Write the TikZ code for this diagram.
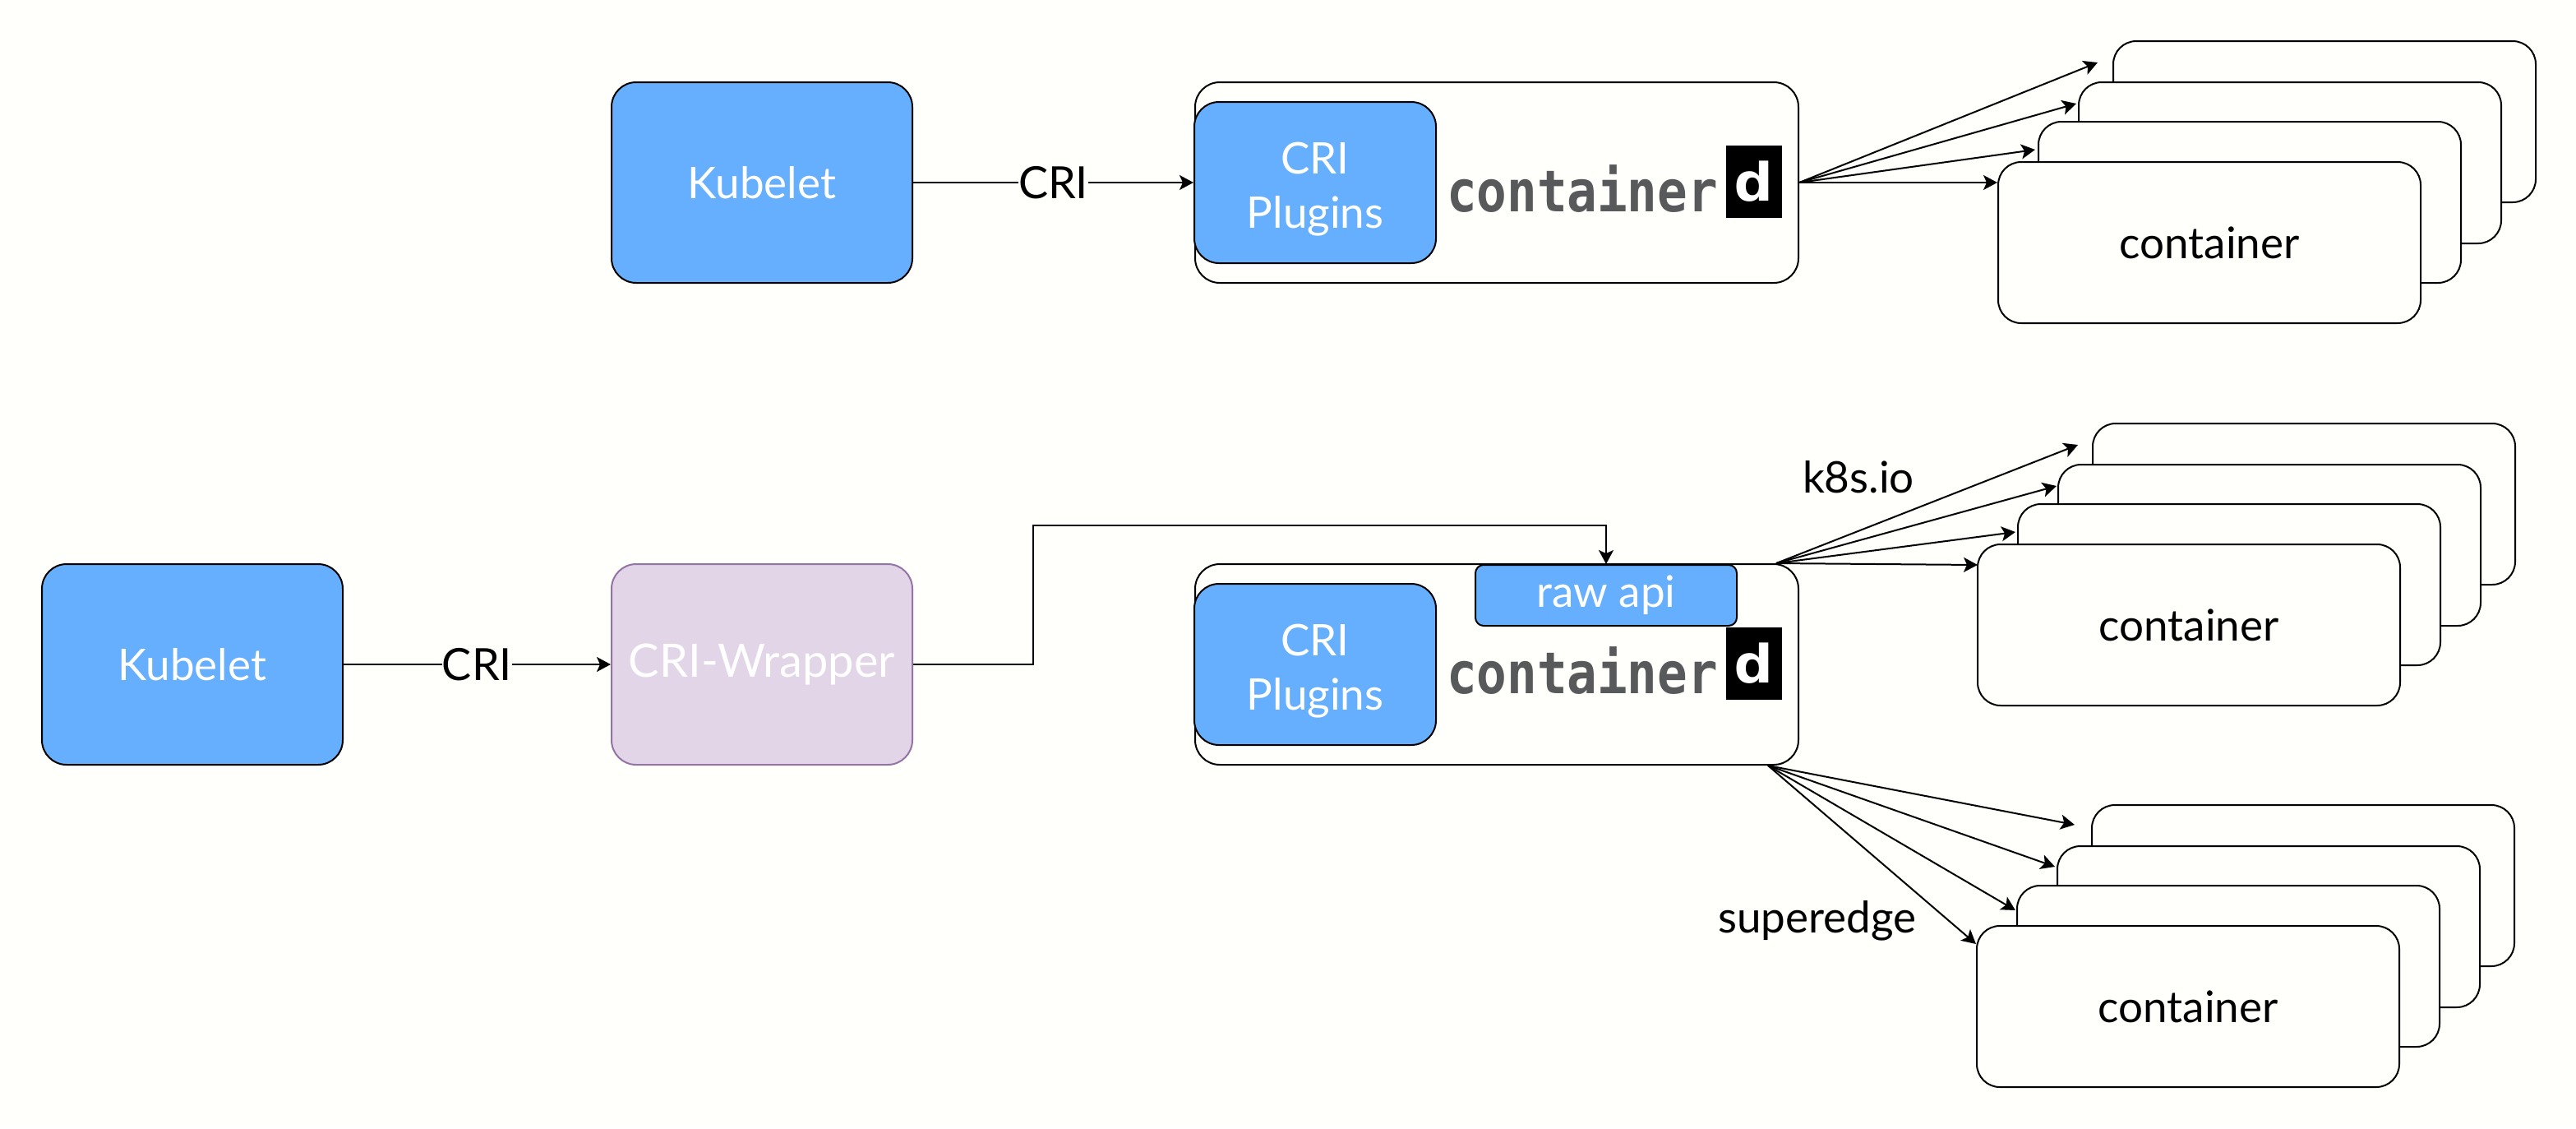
\documentclass[tikz,border=0pt]{standalone}
\usepackage{fontspec}
\setmainfont{Lato}
\newfontfamily\logofont{DejaVu Sans Mono}
\usetikzlibrary{arrows.meta}
\definecolor{paper}{HTML}{FFFFFC}
\definecolor{pluginblue}{HTML}{66AFFF}
\definecolor{wrapperfill}{HTML}{E1D5E7}
\definecolor{wrapperline}{HTML}{9673A6}
\definecolor{logogrey}{HTML}{58595B}

\begin{document}
\begin{tikzpicture}[x=1pt,y=-1pt,line width=1pt,>={Stealth[length=8.5pt,width=9pt,inset=2pt]}]
        \tikzstyle{blockbox}=[rectangle,rounded corners=15pt,draw,minimum width=183pt,minimum height=122pt,inner sep=0pt,font=\fontsize{26.5}{33}\selectfont]
        \tikzstyle{bluebox}=[blockbox,fill=pluginblue,text=white]
        \tikzstyle{wrapperbox}=[blockbox,fill=wrapperfill,draw=wrapperline,text=white,font=\fontsize{28}{33}\selectfont]
        \tikzstyle{cdbox}=[blockbox,fill=paper,minimum width=367pt]
        \tikzstyle{pluginbox}=[bluebox,minimum width=147pt,minimum height=98pt,align=center]
        \tikzstyle{apibox}=[bluebox,rounded corners=5pt,minimum width=159pt,minimum height=37pt]
        \tikzstyle{containerbox}=[blockbox,rounded corners=14pt,fill=paper,minimum width=257pt,minimum height=98pt]
        \tikzstyle{edgelabel}=[fill=paper,inner sep=0pt,font=\fontsize{27}{33}\selectfont]
        \tikzstyle{freelabel}=[inner sep=0pt,font=\fontsize{26.5}{33}\selectfont]
        \tikzstyle{logotext}=[inner sep=0pt,text=logogrey,xscale=.87,font=\logofont\bfseries\fontsize{35}{35}\selectfont]
        \tikzstyle{logosquare}=[fill=black,minimum width=34pt,minimum height=44pt,inner sep=0pt,text=white,font=\logofont\bfseries\fontsize{32}{32}\selectfont]

        \fill[paper] (0,0) rectangle (1567,686);

        % first row
        \node[bluebox] (kubeA) at (463.5,111) {Kubelet};
        \node[cdbox] (cdA) at (910.5,111) {};
        \node[pluginbox] (pluginA) at (800,111) {\rule{0pt}{27pt}CRI\\Plugins};

        % second row
        \node[bluebox] (kubeB) at (117,404) {Kubelet};
        \node[wrapperbox] (wrapper) at (463.5,404) {CRI-Wrapper};
        \node[cdbox] (cdB) at (910.5,404) {};
        \node[pluginbox] (pluginB) at (800,404) {\rule{0pt}{27pt}CRI\\Plugins};
        \node[apibox] (rawapi) at (977,362) {raw api};

        \foreach \i in {A,B} {
            \node[logotext] (logotext\i) at ([xshift=52pt,yshift=-4pt]cd\i.center) {container};
            \node[logosquare] (logod\i) at ([xshift=156.5pt,yshift=0.5pt]cd\i.center) {\raisebox{-2pt}{\scalebox{1.25}[1]{d}}};
        }

        % stacks of containers
        \foreach \s/\x/\y in {a/1344/147.5,b/1331.5/380,c/1331/612} {
            \foreach \i/\dx/\dy in {4/70/-73.5,3/49/-48.5,2/24.5/-24.5}
                \node[containerbox] (\s\i) at (\x+\dx,\y+\dy) {};
            \node[containerbox] (\s1) at (\x,\y) {container};
        }

        % arrow ends
        \foreach \i/\x/\y in {1/1215/111,2/1238/91,3/1263/63,4/1276/38}
            \coordinate (tipa\i) at (\x,\y);
        \foreach \i/\x/\y in {1/1203/343.5,2/1226/323.5,3/1251/295.5,4/1264/270.5}
            \coordinate (tipb\i) at (\x,\y);
        \foreach \i/\x/\y in {1/1202/574,2/1226/553.5,3/1250/527,4/1262/501.5}
            \coordinate (tipc\i) at (\x,\y);
        \coordinate (startb) at ([xshift=-14pt]cdB.north east);
        \coordinate (startc) at ([xshift=-19pt]cdB.south east);
        \coordinate (bend) at (628.5,319.5);

        \draw[->] (kubeA) -- node[edgelabel] (criA) {CRI} (pluginA);
        \draw[->] (kubeB) -- node[edgelabel] (criB) {CRI} (wrapper);
        \draw[->] (wrapper.east) -| (bend) -| (rawapi.north);
        \foreach \i in {1,2,3,4} {
            \draw[->] (cdA.east) -- (tipa\i);
            \draw[->] (startb) -- (tipb\i);
            \draw[->] (startc) -- (tipc\i);
        }

        \node[freelabel] (k8s) at (1130.5,290) {k8s.io};
        \node[freelabel] (superedge) at (1105.5,560) {superedge};
\end{tikzpicture}
\end{document}
